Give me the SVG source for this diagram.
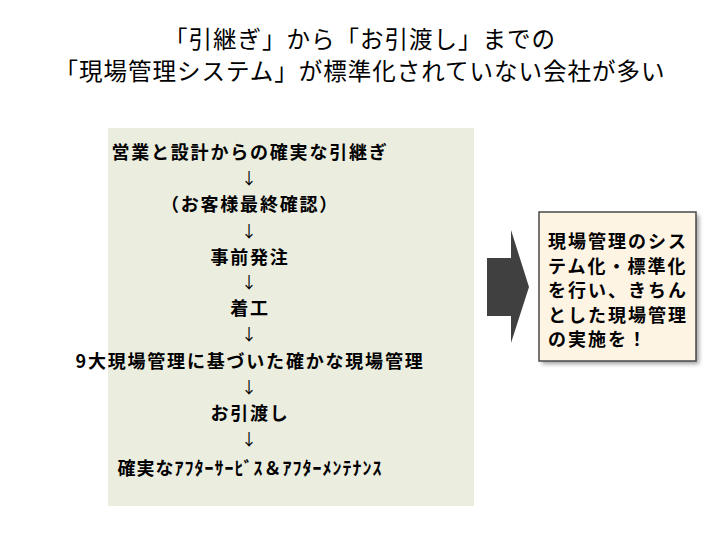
<svg xmlns="http://www.w3.org/2000/svg" width="720" height="540" viewBox="0 0 720 540">
<defs>
<style>
.t{font-family:"Noto Sans CJK JP","Noto Sans CJK SC",sans-serif;fill:#000}
.title{font-size:23.5px;letter-spacing:1px;text-anchor:middle}
.flow{font-size:18px;font-weight:bold;letter-spacing:1.8px;text-anchor:middle}
.arr{font-size:16px;text-anchor:middle}
.note{font-size:18px;font-weight:bold;letter-spacing:2px}
</style>
<filter id="sh" x="-10%" y="-10%" width="130%" height="130%">
<feGaussianBlur stdDeviation="2"/>
</filter>
</defs>
<rect width="720" height="540" fill="#fff"/>
<g id="title">
<text class="t title" x="360" y="48">「引継ぎ」から「お引渡し」までの</text>
<text class="t title" x="360" y="80">「現場管理システム」が標準化されていない会社が多い</text>
</g>
<g id="flow-box">
<rect x="108" y="128" width="366" height="378" fill="#EBEDDF"/>
<text class="t flow" x="250" y="159">営業と設計からの確実な引継ぎ</text>
<text class="t flow" x="250" y="211">（お客様最終確認）</text>
<text class="t flow" x="250" y="264">事前発注</text>
<text class="t flow" x="250" y="315">着工</text>
<text class="t flow" x="250" y="368">9大現場管理に基づいた確かな現場管理</text>
<text class="t flow" x="250" y="420">お引渡し</text>
<text class="t flow" x="250" y="475" style="letter-spacing:1px">確実なｱﾌﾀｰｻｰﾋﾞｽ＆ｱﾌﾀｰﾒﾝﾃﾅﾝｽ</text>
</g>
<g id="connectors">
<text class="t arr" x="249" y="184">↓</text>
<text class="t arr" x="249" y="237">↓</text>
<text class="t arr" x="249" y="288">↓</text>
<text class="t arr" x="249" y="340">↓</text>
<text class="t arr" x="249" y="393">↓</text>
<text class="t arr" x="249" y="445">↓</text>
</g>
<g id="big-arrow">
<polygon points="487,258 511,258 511,230 529,287 511,343 511,316 487,316" fill="#404040"/>
</g>
<g id="note-box">
<rect x="542" y="215" width="157" height="149" fill="#888" filter="url(#sh)" opacity="0.8"/>
<rect x="539" y="212" width="157" height="149" fill="#FEF4E4" stroke="#4a4a4a" stroke-width="1.5"/>
<text class="t note" x="548" y="248">現場管理のシス</text>
<text class="t note" x="548" y="272.5">テム化・標準化</text>
<text class="t note" x="548" y="297">を行い、きちん</text>
<text class="t note" x="548" y="321.5">とした現場管理</text>
<text class="t note" x="548" y="346">の実施を！</text>
</g>
</svg>
